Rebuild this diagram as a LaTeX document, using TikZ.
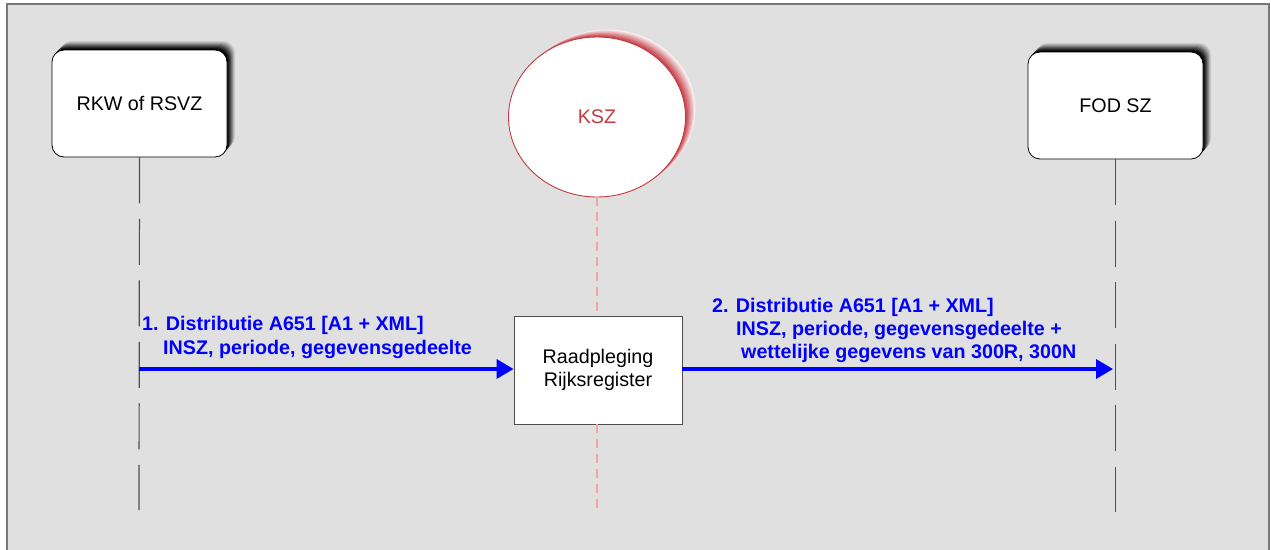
\documentclass[tikz,border=0pt]{standalone}
\usepackage{fontspec}
\setmainfont{Liberation Sans}
\usetikzlibrary{arrows.meta,shapes.geometric,shadows}
\definecolor{bg}{RGB}{224,224,224}
\definecolor{framec}{RGB}{120,120,120}
\definecolor{kszred}{RGB}{196,58,66}
\definecolor{kszline}{RGB}{244,164,168}
\definecolor{life}{RGB}{80,80,80}
\definecolor{msg}{RGB}{0,0,255}
\tikzset{
  gs/.style n args={3}{general shadow={shadow xshift=#1pt,shadow yshift=#2pt,fill=#3,draw=none}},
  boxshadow/.style={
    gs={8.0}{9}{black!10!bg}, gs={7.1}{8}{black!20!bg}, gs={6.2}{7}{black!32!bg},
    gs={5.3}{6}{black!45!bg}, gs={4.4}{5}{black!58!bg}, gs={3.5}{4}{black!70!bg},
    gs={2.6}{3}{black!82!bg}, gs={1.7}{2}{black!92!bg}, gs={0.9}{1}{black}},
  redshadow/.style={
    gs={10.0}{7.5}{kszred!8!white}, gs={8.8}{6.6}{kszred!20!white}, gs={7.6}{5.7}{kszred!32!white},
    gs={6.3}{4.7}{kszred!45!white}, gs={5.0}{3.8}{kszred!58!white}, gs={3.8}{2.8}{kszred!70!white},
    gs={2.5}{1.9}{kszred!82!white}, gs={1.3}{1}{kszred!92!white}},
  txt/.style={font=\fontsize{19.7}{23.5}\selectfont, text=black},
  actor/.style={txt, draw=black, line width=0.8pt, fill=white, rounded corners=12pt,
    minimum width=175pt, minimum height=107pt, inner sep=0pt, boxshadow},
  kszstyle/.style={ellipse, draw=kszred, line width=0.9pt, fill=white, minimum width=177pt,
    minimum height=160pt, inner sep=0pt, font=\fontsize{19.7}{23.5}\selectfont, text=kszred, redshadow},
  procbox/.style={txt, draw=black!70, line width=0.9pt, fill=white, minimum width=168pt,
    minimum height=108pt, inner sep=0pt, align=center},
  lifeline/.style={draw=life, line width=1.2pt, dash pattern=on 46pt off 15.5pt},
  ksztrace/.style={draw=kszline, line width=1.2pt, dash pattern=on 9pt off 6pt},
  msgarrow/.style={draw=msg, line width=3.6pt, -{Triangle[length=17pt,width=19pt]}},
  msgtext/.style={font=\bfseries\fontsize{19.7}{23.5}\selectfont, text=msg, inner sep=0pt, anchor=base west}
}
\begin{document}
\begin{tikzpicture}[x=1pt,y=-1pt]
\useasboundingbox (0,0) rectangle (1271,549);
\fill[bg] (7,4) rectangle (1269,570);
\draw[framec, line width=1.6pt] (7,570) -- (7,4) -- (1269,4) -- (1269,570);

\node[actor] (rkw) at (139.5,103.5) {RKW of RSVZ};
\node[actor] (fod) at (1115.5,105.5) {FOD SZ};
\node[kszstyle] (ksz) at (597,117) {KSZ};
\node[procbox] (rr) at (598,370) {Raadpleging\\Rijksregister};

\coordinate (rkwend) at (139,510);
\coordinate (fodend) at (1115.5,512);
\coordinate (kszend) at (597,512);

\draw[lifeline] (rkw.south) -- (rkwend);
\draw[lifeline] (fod.south) -- (fodend);
\draw[ksztrace] (ksz.south) -- (ksz.south |- rr.north);
\draw[ksztrace] (rr.south -| ksz.south) -- (kszend);

\coordinate (m1s) at (139,369);
\coordinate (m2e) at (1113,369);
\draw[msgarrow] (m1s) -- (m1s -| rr.west);
\draw[msgarrow] (m2e -| rr.east) -- (m2e);

\node[msgtext] (l1a) at (142,330) {1. Distributie A651 [A1 + XML]};
\node[msgtext] (l1b) at (163,354) {INSZ, periode, gegevensgedeelte};
\node[msgtext] (l2a) at (712,312) {2. Distributie A651 [A1 + XML]};
\node[msgtext] (l2b) at (736,335) {INSZ, periode, gegevensgedeelte +};
\node[msgtext] (l2c) at (741,358) {wettelijke gegevens van 300R, 300N};
\end{tikzpicture}
\end{document}
